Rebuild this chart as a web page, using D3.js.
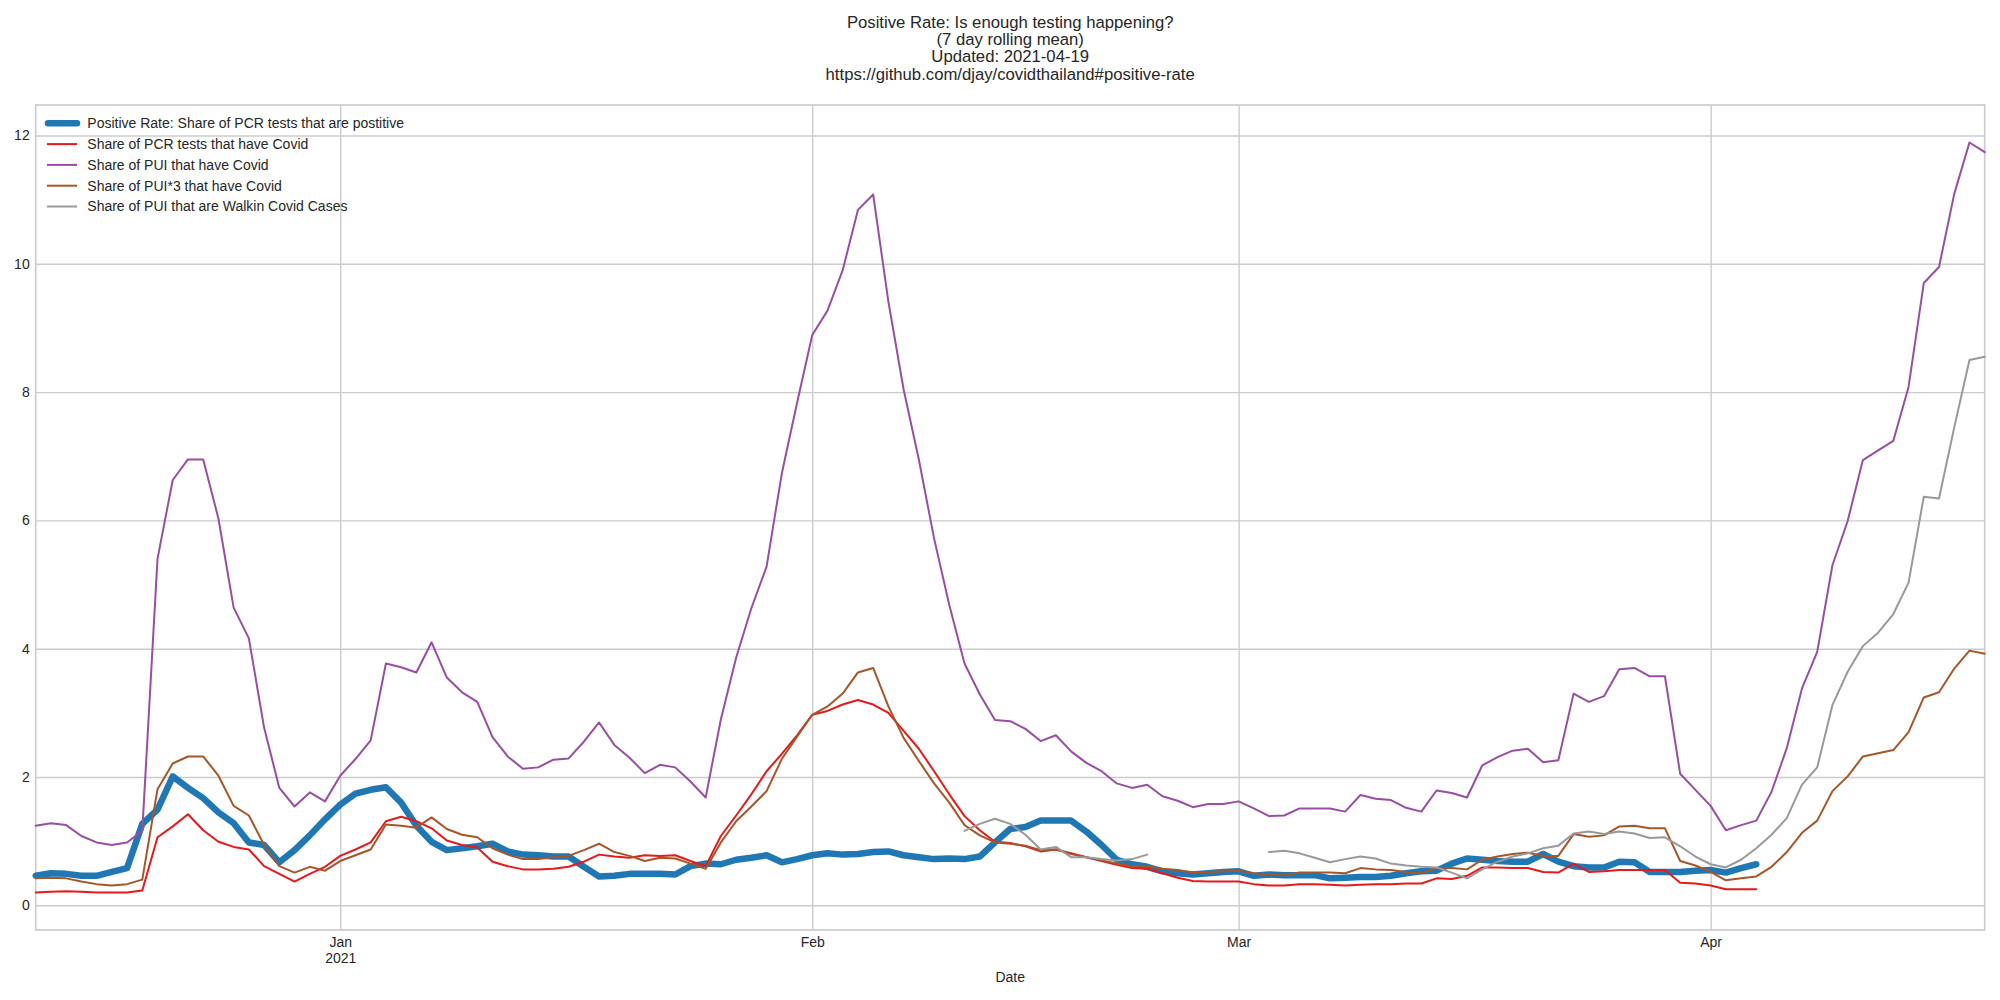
<!DOCTYPE html>
<html>
<head>
<meta charset="utf-8">
<script src="https://d3js.org/d3.v7.min.js"></script>
<style>
body { margin: 0; background: #fff; }
text { font-family: "Liberation Sans", Arial, sans-serif; fill: #262626; }
</style>
</head>
<body>
<script>
// daily values from 2020-12-12 to 2021-04-19 (null = no data)
const startDate = new Date(2020, 11, 12);
const endDate = new Date(2021, 3, 19);

const positiveRate = [
  0.46,0.50,0.49,0.46,0.46,0.52,0.58,1.27,1.49,2.01,
  1.83,1.67,1.45,1.28,0.98,0.94,0.67,0.86,1.09,1.34,
  1.57,1.74,1.80,1.84,1.60,1.24,0.99,0.86,0.89,0.92,
  0.96,0.84,0.79,0.78,0.76,0.76,0.60,0.45,0.46,0.49,
  0.49,0.49,0.48,0.61,0.65,0.64,0.71,0.74,0.78,0.67,
  0.72,0.78,0.81,0.79,0.80,0.83,0.84,0.78,0.75,0.72,
  0.73,0.72,0.76,0.98,1.19,1.22,1.32,1.32,1.32,1.15,
  0.94,0.71,0.64,0.60,0.53,0.50,0.48,0.50,0.52,0.53,
  0.46,0.48,0.47,0.47,0.47,0.42,0.43,0.44,0.44,0.46,
  0.50,0.53,0.54,0.65,0.73,0.71,0.69,0.68,0.68,0.80,
  0.68,0.61,0.59,0.59,0.68,0.67,0.52,0.52,0.52,0.54,
  0.55,0.51,0.58,0.64,null,null,null,null,null,null,
  null,null,null,null,null,null,null,null,null
];

const pcrCovid = [
  0.20,0.21,0.22,0.21,0.20,0.20,0.20,0.23,1.06,1.23,
  1.42,1.17,0.99,0.91,0.87,0.61,0.49,0.37,0.49,0.60,
  0.77,0.87,0.98,1.31,1.38,1.31,1.20,1.01,0.94,0.90,
  0.68,0.61,0.56,0.56,0.57,0.60,0.68,0.79,0.76,0.74,
  0.78,0.77,0.78,0.69,0.61,1.08,1.40,1.73,2.09,2.36,
  2.65,2.97,3.03,3.13,3.20,3.13,3.00,2.72,2.44,2.09,
  1.73,1.39,1.17,0.99,0.97,0.92,0.84,0.87,0.81,0.75,
  0.69,0.63,0.58,0.57,0.50,0.43,0.38,0.37,0.37,0.37,
  0.33,0.31,0.31,0.33,0.33,0.32,0.31,0.32,0.33,0.33,
  0.34,0.34,0.42,0.41,0.46,0.59,0.59,0.58,0.58,0.52,
  0.51,0.65,0.52,0.53,0.55,0.55,0.55,0.55,0.35,0.34,
  0.31,0.25,0.25,0.25,null,null,null,null,null,null,
  null,null,null,null,null,null,null,null,null
];

const puiCovid = [
  1.24,1.28,1.25,1.08,0.98,0.94,0.98,1.16,5.40,6.63,
  6.95,6.95,6.03,4.64,4.16,2.77,1.83,1.54,1.76,1.62,
  2.02,2.28,2.57,3.77,3.71,3.63,4.10,3.55,3.32,3.17,
  2.62,2.32,2.13,2.15,2.27,2.29,2.55,2.85,2.50,2.30,
  2.06,2.19,2.15,1.93,1.68,2.90,3.86,4.63,5.28,6.73,
  7.83,8.89,9.27,9.90,10.84,11.08,9.41,8.04,6.95,5.72,
  4.68,3.77,3.29,2.89,2.87,2.75,2.56,2.65,2.40,2.22,
  2.09,1.90,1.83,1.88,1.70,1.63,1.53,1.58,1.58,1.62,
  1.51,1.39,1.40,1.51,1.51,1.51,1.46,1.72,1.66,1.64,
  1.52,1.46,1.79,1.75,1.68,2.18,2.31,2.41,2.44,2.23,
  2.26,3.30,3.17,3.26,3.68,3.70,3.57,3.57,2.05,1.80,
  1.55,1.17,1.25,1.32,1.77,2.45,3.38,3.95,5.30,5.99,
  6.94,7.09,7.24,8.08,9.70,9.95,11.09,11.89,11.74
];

const pui3Covid = [
  0.42,0.43,0.42,0.37,0.33,0.31,0.33,0.40,1.81,2.21,
  2.32,2.32,2.02,1.55,1.40,0.94,0.61,0.51,0.60,0.54,
  0.69,0.78,0.87,1.26,1.24,1.21,1.37,1.19,1.10,1.06,
  0.89,0.79,0.72,0.72,0.75,0.77,0.86,0.96,0.83,0.77,
  0.69,0.74,0.73,0.65,0.57,0.98,1.31,1.54,1.78,2.28,
  2.63,2.97,3.10,3.30,3.63,3.70,3.10,2.61,2.25,1.90,
  1.60,1.25,1.09,0.98,0.96,0.93,0.86,0.87,0.80,0.75,
  0.70,0.65,0.61,0.61,0.57,0.55,0.51,0.52,0.53,0.54,
  0.50,0.48,0.47,0.51,0.51,0.51,0.50,0.58,0.56,0.55,
  0.52,0.50,0.58,0.58,0.56,0.71,0.76,0.80,0.82,0.77,
  0.77,1.11,1.07,1.09,1.23,1.24,1.20,1.20,0.69,0.62,
  0.52,0.39,0.42,0.45,0.60,0.83,1.13,1.32,1.78,2.01,
  2.32,2.37,2.42,2.70,3.24,3.32,3.69,3.97,3.92
];

const walkinCovid = [
  null,null,null,null,null,null,null,null,null,null,
  null,null,null,null,null,null,null,null,null,null,
  null,null,null,null,null,null,null,null,null,null,
  null,null,null,null,null,null,null,null,null,null,
  null,null,null,null,null,null,null,null,null,null,
  null,null,null,null,null,null,null,null,null,null,
  null,1.16,1.27,1.35,1.27,1.10,0.87,0.91,0.75,0.75,
  0.72,0.70,0.72,0.79,null,null,null,null,null,null,
  null,0.83,0.85,0.81,0.74,0.67,0.72,0.76,0.73,0.65,
  0.62,0.60,0.59,0.51,0.42,0.56,0.68,0.76,0.81,0.89,
  0.93,1.12,1.15,1.11,1.15,1.12,1.05,1.06,0.92,0.76,
  0.64,0.59,0.71,0.89,1.10,1.36,1.88,2.15,3.12,3.64,
  4.04,4.25,4.54,5.03,6.37,6.34,7.45,8.50,8.55
];

const seriesNames = [
  "Positive Rate: Share of PCR tests that are postitive",
  "Share of PCR tests that have Covid",
  "Share of PUI that have Covid",
  "Share of PUI*3 that have Covid",
  "Share of PUI that are Walkin Covid Cases"
];
const seriesValues = [positiveRate, pcrCovid, puiCovid, pui3Covid, walkinCovid];
const seriesColors = ["#1f77b4", "#e41a1c", "#984ea3", "#a65628", "#999999"];
const seriesWidths = [6.5, 2, 2, 2, 2];

const monthTicks = [new Date(2021, 0, 1), new Date(2021, 1, 1), new Date(2021, 2, 1), new Date(2021, 3, 1)];
const monthLabels = [["Jan", "2021"], ["Feb"], ["Mar"], ["Apr"]];
const yTicks = [0, 2, 4, 6, 8, 10, 12];
const titleLines = [
  "Positive Rate: Is enough testing happening?",
  "(7 day rolling mean)",
  "Updated: 2021-04-19",
  "https://github.com/djay/covidthailand#positive-rate"
];

const width = 2000, height = 1000;
const plotLeft = 35.7, plotRight = 1984.7, plotTop = 105, plotBottom = 930;

const svg = d3.select("body").append("svg")
  .attr("width", width)
  .attr("height", height);

const days = d3.timeDay.range(startDate, d3.timeDay.offset(endDate, 1));

const x = d3.scaleTime()
  .domain([startDate, endDate])
  .range([plotLeft, plotRight]);
const y = d3.scaleLinear()
  .domain([-0.385, 12.475])
  .range([plotBottom, plotTop]);

// grid
svg.append("g")
  .attr("transform", "translate(" + plotLeft + ",0)")
  .call(d3.axisLeft(y).tickValues(yTicks).tickSize(-(plotRight - plotLeft)).tickPadding(6).tickFormat(d3.format("d")))
  .call(g => g.select(".domain").remove())
  .call(g => g.selectAll("line").attr("stroke", "#cccccc").attr("stroke-width", 1.4))
  .call(g => g.selectAll("text").attr("font-size", 14).attr("fill", "#262626"));

const xAxis = svg.append("g")
  .attr("transform", "translate(0," + plotBottom + ")")
  .call(d3.axisBottom(x).tickValues(monthTicks).tickSize(-(plotBottom - plotTop)).tickFormat(""))
  .call(g => g.select(".domain").remove())
  .call(g => g.selectAll("line").attr("stroke", "#cccccc").attr("stroke-width", 1.4));

xAxis.selectAll(".tick").each(function(d, i) {
  const t = d3.select(this).append("text")
    .attr("y", 17)
    .attr("font-size", 14)
    .attr("fill", "#262626")
    .attr("text-anchor", "middle");
  monthLabels[i].forEach((s, j) => {
    t.append("tspan").attr("x", 0).attr("dy", j === 0 ? 0 : 16).text(s);
  });
});

// frame
svg.append("rect")
  .attr("x", plotLeft).attr("y", plotTop)
  .attr("width", plotRight - plotLeft).attr("height", plotBottom - plotTop)
  .attr("fill", "none")
  .attr("stroke", "#cccccc")
  .attr("stroke-width", 1.7);

// lines
const line = d3.line()
  .defined(d => d[1] != null)
  .x(d => x(d[0]))
  .y(d => y(d[1]));

seriesValues.forEach((vals, i) => {
  svg.append("path")
    .datum(days.map((d, k) => [d, vals[k]]))
    .attr("fill", "none")
    .attr("stroke", seriesColors[i])
    .attr("stroke-width", seriesWidths[i])
    .attr("stroke-linejoin", "round")
    .attr("stroke-linecap", "round")
    .attr("d", line);
});

// legend
const legend = svg.append("g");
seriesNames.forEach((name, i) => {
  const ly = 123.3 + i * 20.8;
  legend.append("line")
    .attr("x1", i === 0 ? 48 : 47).attr("x2", 77)
    .attr("y1", ly).attr("y2", ly)
    .attr("stroke", seriesColors[i])
    .attr("stroke-width", seriesWidths[i])
    .attr("stroke-linecap", i === 0 ? "round" : "butt");
  legend.append("text")
    .attr("x", 87.3).attr("y", ly)
    .attr("dy", "0.35em")
    .attr("font-size", 14)
    .text(name);
});

// title
titleLines.forEach((s, i) => {
  svg.append("text")
    .attr("x", (plotLeft + plotRight) / 2)
    .attr("y", 21.7 + i * 17.4)
    .attr("dy", "0.35em")
    .attr("text-anchor", "middle")
    .attr("font-size", 16.7)
    .text(s);
});

svg.append("text")
  .attr("x", (plotLeft + plotRight) / 2)
  .attr("y", 977)
  .attr("dy", "0.35em")
  .attr("text-anchor", "middle")
  .attr("font-size", 14)
  .text("Date");
</script>
</body>
</html>
